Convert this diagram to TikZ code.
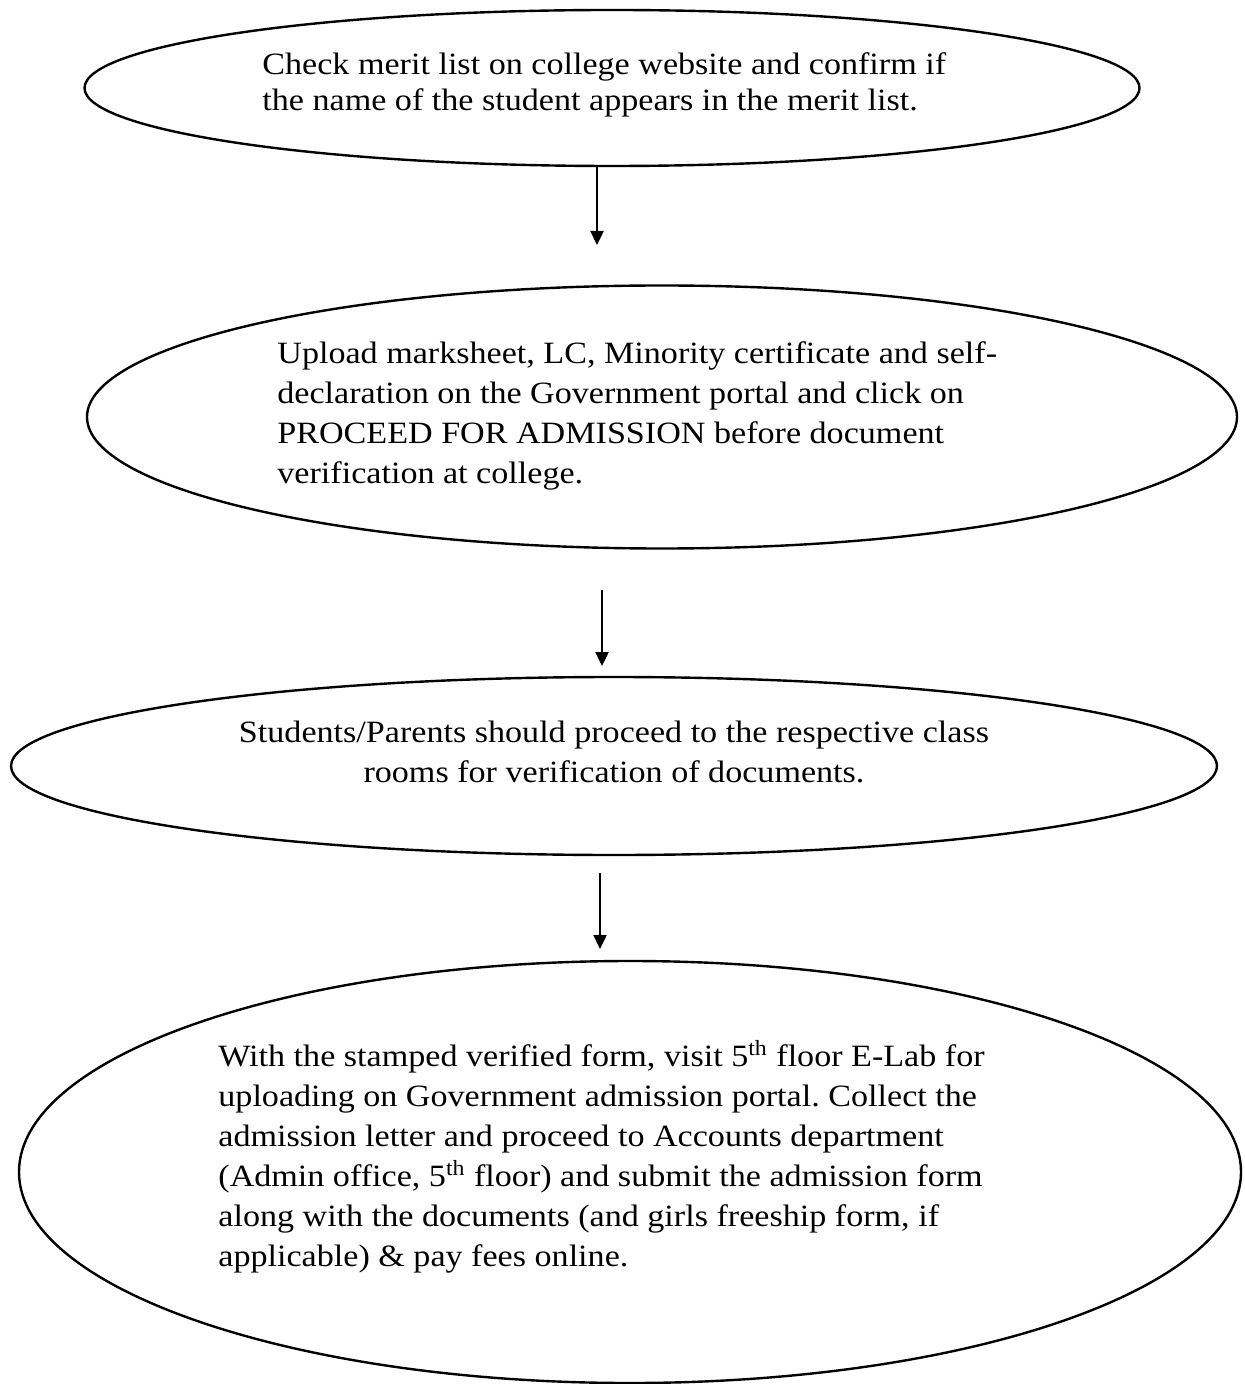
\documentclass[tikz,border=0pt]{standalone}
\usepackage{fontspec}
\setmainfont[FakeStretch=1.1]{Liberation Serif}
\usetikzlibrary{shapes.geometric,arrows.meta}
\frenchspacing
\begin{document}
\begin{tikzpicture}[x=0.5pt,y=-0.5pt,
  oval/.style 2 args={ellipse, draw=black, line width=1.2pt, inner sep=0pt, outer sep=0pt,
    minimum width=#1*0.5pt, minimum height=#2*0.5pt},
  txt/.style={inner sep=0pt, align=left, font=\fontsize{15.5}{20}\selectfont},
  flow/.style={draw=black, line width=1.2pt, -{Triangle[width=6.5pt,length=7pt]}}]
\path[fill=white, use as bounding box] (0,0) rectangle (1244,1384);
% ellipses
\node[oval={1055}{156}] (e1) at (612,88) {};
\node[oval={1150}{263}] (e2) at (662,417) {};
\node[oval={1206}{178}] (e3) at (614,766) {};
\node[oval={1222}{422}] (e4) at (630,1172) {};
% texts
\node[txt, anchor=west, font=\fontsize{15.5}{18}\selectfont] (t1) at (262,85)
 {Check merit list on college website and confirm if\\
  the name of the student appears in the merit list.};
\node[txt, anchor=west] (t2) at (277,416)
 {Upload marksheet, LC, Minority certificate and self-\\
  declaration on the Government portal and click on\\
  PROCEED FOR ADMISSION before document\\
  verification at college.};
\node[txt, align=center] (t3) at (614,752)
 {Students/Parents should proceed to the respective class\\
  rooms for verification of documents.};
\node[txt, anchor=west] (t4) at (218,1157)
 {With the stamped verified form, visit 5\textsuperscript{th} floor E-Lab for\\
  uploading on Government admission portal. Collect the\\
  admission letter and proceed to Accounts department\\
  (Admin office, 5\textsuperscript{th} floor) and submit the admission form\\
  along with the documents (and girls freeship form, if\\
  applicable) \& pay fees online.};
% arrows
\coordinate (a1s) at (597,167); \coordinate (a1e) at (597,245);
\coordinate (a2s) at (602,590); \coordinate (a2e) at (602,666);
\coordinate (a3s) at (600,873); \coordinate (a3e) at (600,949);
\draw[flow] (a1s) -- (a1e);
\draw[flow] (a2s) -- (a2e);
\draw[flow] (a3s) -- (a3e);
\end{tikzpicture}
\end{document}
